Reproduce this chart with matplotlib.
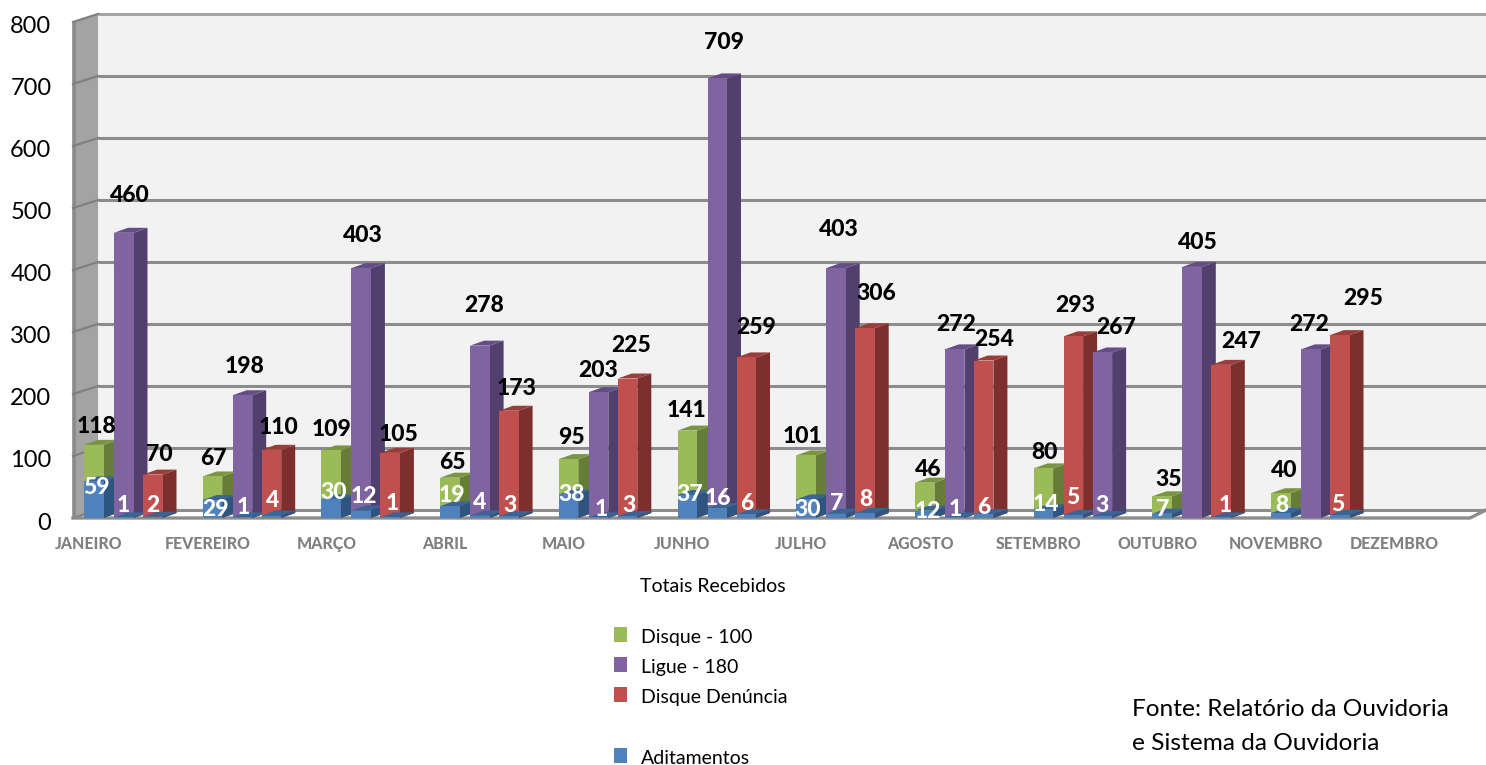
import matplotlib
matplotlib.use("Agg")
import matplotlib.pyplot as plt
from matplotlib.patches import Polygon, Rectangle
from matplotlib.transforms import ScaledTranslation

meses = ["JANEIRO", "FEVEREIRO", "MARÇO", "ABRIL", "MAIO", "JUNHO", "JULHO",
         "AGOSTO", "SETEMBRO", "OUTUBRO", "NOVEMBRO", "DEZEMBRO"]
escala = [0, 100, 200, 300, 400, 500, 600, 700, 800]

disque_100 = [118, 67, 109, 65, 95, 141, 101, 46, 80, 35, 40]
# em agosto a barra desenhada e mais alta que o rotulo 46
disque_100_altura = [118, 67, 109, 65, 95, 141, 101, 57, 80, 35, 40]
ligue_180 = [460, 198, 403, 278, 203, 709, 403, 272, 267, 405, 272]
disque_denuncia = [70, 110, 105, 173, 225, 259, 306, 254, 293, 247, 295]

adit_disque = [59, 29, 30, 19, 38, 37, 30, 12, 14, 7, 8]
adit_ligue = [1, 1, 12, 4, 1, 16, 7, 1, 3, None, None]
adit_denuncia = [2, 4, 1, 3, 3, 6, 8, 6, 5, 1, 5]

# centro dos rotulos na imagem (pixels)
pos_disque = [(96, 425), (213, 457), (332, 428), (452, 461), (571, 436), (686, 409),
              (802, 435), (928, 468), (1044, 451), (1169, 478), (1284, 469)]
pos_ligue = [(130, 194), (245, 365), (363, 234), (484, 304), (598, 369), (724, 41),
             (839, 228), (956, 323), (1116, 326), (1198, 241), (1309, 323)]
pos_denuncia = [(159, 453), (279, 426), (399, 433), (517, 387), (631, 344), (756, 326),
                (876, 292), (994, 338), (1075, 304), (1241, 340), (1363, 297)]
pos_adit_disque = [(96, 486), (216, 508), (334, 491), (452, 494), (572, 493), (690, 493),
                   (808, 507), (928, 509), (1046, 503), (1163, 508), (1282, 504)]
pos_adit_ligue = [(123, 504), (243, 505), (364, 495), (480, 501), (601, 507), (718, 497),
                  (837, 502), (955, 507), (1102, 504), None, None]
pos_adit_denuncia = [(153, 504), (273, 499), (392, 502), (510, 504), (629, 504), (747, 502),
                     (866, 498), (984, 505), (1073, 496), (1225, 504), (1338, 503)]

VERDE = ("#9BBB59", "#667D3A", "#7A9443")
ROXO = ("#8064A2", "#533F6E", "#654D85")
VERMELHO = ("#C0504D", "#7D2F2E", "#983E3B")
AZUL = ("#4F81BD", "#2F5480", "#3B6494")

W, H = 1486, 765
X0, Y0 = 89, 518  # pixel do mes 0 / valor 0
PX_MES, PX_VALOR = 118.7, 0.62
LARG = 19.5 / PX_MES
PROF_X, PROF_Y = 14 / PX_MES, 5 / PX_VALOR
SLOT = [-5 / PX_MES, 25 / PX_MES, 54 / PX_MES]
PAREDE_X, PAREDE_Y = 25 / PX_MES, 8 / PX_VALOR


def dx(px):
    return (px - X0) / PX_MES


def dy(py):
    return (Y0 - py) / PX_VALOR


plt.rcParams["font.family"] = ["Lato", "DejaVu Sans"]
fig = plt.figure(figsize=(W / 100, H / 100), dpi=100)
ax = fig.add_axes([73 / W, (H - Y0) / H, (1470 - 73) / W, (Y0 - 22) / H])
ax.set_xlim(dx(73), dx(1470))
ax.set_ylim(0, 800)
for s in ax.spines.values():
    s.set_visible(False)
ax.patch.set_visible(False)

ax.set_yticks(escala)
ax.tick_params(axis="y", length=0, pad=15.5, labelsize=17, labelcolor="black")
desce = ScaledTranslation(0, -3 / 100, fig.dpi_scale_trans)
for lab in ax.get_yticklabels():
    lab.set_transform(lab.get_transform() + desce)
ax.set_xticks(range(len(meses)))
ax.set_xticklabels(meses, fontsize=11.4, fontweight="black", color="#808080")
ax.tick_params(axis="x", length=0, pad=13)

xe, xd = dx(73), dx(1470)
fundo_e, fundo_d = xe + PAREDE_X, dx(1486)
topo = 800 + PAREDE_Y

# parede do fundo, parede lateral e piso
ax.add_patch(Polygon([(fundo_e, PAREDE_Y), (fundo_d, PAREDE_Y), (fundo_d, topo), (fundo_e, topo)],
                     fc="#F2F2F2", ec="none", clip_on=False, zorder=1))
ax.add_patch(Polygon([(xe, 0), (fundo_e, PAREDE_Y), (fundo_e, topo), (xe, 800)],
                     fc="#A3A3A3", ec="none", clip_on=False, zorder=1))
ax.plot([xe + 0.012, xe + 0.012], [0, 800], color="#8A8A8A", lw=2.6, zorder=1.5, clip_on=False,
        solid_capstyle="butt")
ax.add_patch(Polygon([(xe, 0), (fundo_e, PAREDE_Y), (fundo_d, PAREDE_Y), (xd, 0)],
                     fc="white", ec="none", clip_on=False, zorder=1.2))
for v in escala:
    cor = "#A6A6A6" if v == 800 else "#8C8C8C"
    ax.plot([fundo_e, fundo_d], [v + PAREDE_Y, v + PAREDE_Y], color=cor, lw=2.2, zorder=2,
            clip_on=False, solid_capstyle="butt")
    ax.plot([xe, fundo_e], [v, v + PAREDE_Y], color="#808080", lw=1.6, zorder=2, clip_on=False)
ax.plot([xe, xd, fundo_d], [0, 0, PAREDE_Y], color="#8C8C8C", lw=2.4, zorder=2.5, clip_on=False)


def barra(x, valor, cores, z):
    frente, lado, cima = cores
    ax.bar(x, valor, width=LARG, align="edge", color=frente, zorder=z + 0.2)
    ax.add_patch(Polygon([(x + LARG, 0), (x + LARG + PROF_X, PROF_Y),
                          (x + LARG + PROF_X, valor + PROF_Y), (x + LARG, valor)],
                         fc=lado, ec="none", zorder=z, clip_on=False))
    ax.add_patch(Polygon([(x, valor), (x + PROF_X, valor + PROF_Y),
                          (x + LARG + PROF_X, valor + PROF_Y), (x + LARG, valor)],
                         fc=cima, ec="none", zorder=z, clip_on=False))


z = 3
for i in range(len(disque_100)):
    grupo = [(disque_100_altura[i], adit_disque[i], VERDE),
             (ligue_180[i], adit_ligue[i], ROXO),
             (disque_denuncia[i], adit_denuncia[i], VERMELHO)]
    # em setembro a ordem das barras esta trocada
    if meses[i] == "SETEMBRO":
        grupo[1], grupo[2] = grupo[2], grupo[1]
    for k, (valor, adit, cores) in enumerate(grupo):
        barra(i + SLOT[k], valor, cores, z)
        if adit:
            barra(i + SLOT[k], adit, AZUL, z + 0.5)
        z += 1


def rotulos(valores, posicoes, cor, tam):
    for v, p in zip(valores, posicoes):
        if v is None:
            continue
        ax.text(dx(p[0]), dy(p[1] + 2), str(v), color=cor, fontsize=tam, fontweight="black",
                ha="center", va="center", zorder=100, clip_on=False)


rotulos(disque_100, pos_disque, "black", 16.5)
rotulos(ligue_180, pos_ligue, "black", 16.5)
rotulos(disque_denuncia, pos_denuncia, "black", 16.5)
rotulos(adit_disque, pos_adit_disque, "white", 16.5)
rotulos(adit_ligue, pos_adit_ligue, "white", 16.5)
rotulos(adit_denuncia, pos_adit_denuncia, "white", 16.5)


def fig_texto(px, py, txt, tam):
    fig.text(px / W, 1 - py / H, txt, fontsize=tam, ha="left", va="center", color="black")


fig_texto(640, 587, "Totais Recebidos", 14)
legenda = [("Disque - 100", VERDE[0], 635), ("Ligue - 180", ROXO[0], 665),
           ("Disque Denúncia", VERMELHO[0], 695), ("Aditamentos", AZUL[0], 756)]
for nome, cor, py in legenda:
    fig.add_artist(Rectangle((614 / W, 1 - (py + 7) / H), 13 / W, 15 / H, fc=cor, ec="none",
                             transform=fig.transFigure))
    fig_texto(641, py + 2, nome, 14)

fig_texto(1132, 710, "Fonte: Relatório da Ouvidoria", 17.6)
fig_texto(1132, 743, "e Sistema da Ouvidoria", 17.6)

fig.savefig("out.png", dpi=100, facecolor="white")
